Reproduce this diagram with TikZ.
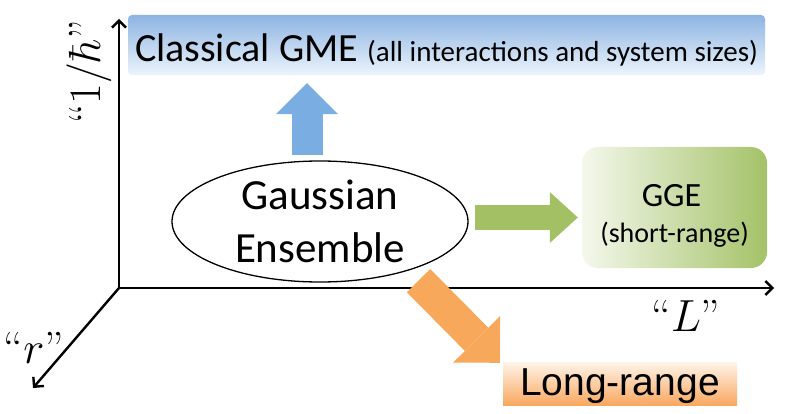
\documentclass[tikz,border=0pt]{standalone}
\usepackage{fix-cm}
\usepackage{fontspec}
\newfontfamily\calfont{Carlito}
\newfontfamily\arialfont{Liberation Sans}
\usetikzlibrary{arrows.meta, positioning, calc, shapes.geometric}

\definecolor{clsTop}{RGB}{141,180,226}
\definecolor{clsBot}{RGB}{236,244,252}
\definecolor{ggeLeft}{RGB}{244,248,236}
\definecolor{ggeRight}{RGB}{164,194,104}
\definecolor{lngTop}{RGB}{255,244,234}
\definecolor{lngBot}{RGB}{249,168,96}
\definecolor{upBlue}{RGB}{122,174,227}
\definecolor{rightGreen}{RGB}{163,193,100}
\definecolor{downOrange}{RGB}{248,168,90}

\begin{document}
\begin{tikzpicture}[
    x=1pt,
    y=-1pt,
    axis/.style={
        line width=2.4pt,
        -{Straight Barb[length=7pt, width=14pt]}
    },
    axislabel/.style={
        inner sep=0pt,
        font=\fontsize{45}{54}\selectfont
    },
    ensemble/.style={
        ellipse,
        draw=black,
        line width=1.3pt,
        fill=white,
        minimum width=296pt,
        minimum height=121pt,
        inner sep=0pt,
        align=center,
        font=\calfont\fontsize{43}{53}\selectfont
    },
    classbox/.style={
        rectangle,
        rounded corners=4pt,
        top color=clsTop,
        bottom color=clsBot,
        minimum width=637pt,
        minimum height=60pt,
        inner sep=0pt,
        text height=34pt,
        text depth=0pt,
        font=\calfont\fontsize{40}{48}\selectfont
    },
    ggebox/.style={
        rectangle,
        rounded corners=16pt,
        left color=ggeLeft,
        right color=ggeRight,
        minimum width=185pt,
        minimum height=121pt,
        inner sep=0pt
    },
    ggetext/.style={
        inner sep=0pt,
        anchor=base,
        font=\calfont\fontsize{#1}{#1}\selectfont
    },
    longbox/.style={
        rectangle,
        top color=lngTop,
        bottom color=lngBot,
        minimum width=234pt,
        minimum height=43pt,
        inner sep=0pt,
        text height=27pt,
        text depth=4pt,
        font=\arialfont\fontsize{39}{46}\selectfont
    },
    fatarrow/.style n args={4}{
        draw=#1,
        line width=#2,
        -{Triangle[length=#4, width=#3, line width=0pt, fill=#1]}
    }
]
\useasboundingbox (0,0) rectangle (789,414);

% Axes
\coordinate (o) at (119,288);
\coordinate (ytip) at (119,19);
\coordinate (xtip) at (774,288);
\coordinate (rtip) at (33,388);

\draw[axis] (o) -- (ytip);
\draw[axis] (o) -- (xtip);
\draw[axis] (o) -- (rtip);

\node[axislabel, rotate=90] (hbarlbl) at (89,72) {``$1/\hbar$''};
\node[axislabel] (Llbl) at (686,316) {``$L$''};
\node[axislabel] (rlbl) at (34,348) {``$r$''};

% Boxes
\node[ensemble] (ens) at (320,221.5) {Gaussian\\Ensemble};
\node[classbox] (cls) at (446.5,45) {Classical GME {\fontsize{29}{34}\selectfont (all interactions and system sizes)}};
\node[ggebox] (gge) at (674.5,207.5) {};
\node[ggetext=34] (ggetitle) at ($(gge.center)+(-3,-0.5)$) {GGE};
\node[ggetext=28] (ggesub) at ($(ggetitle.base)+(3,35)$) {(short-range)};
\node[longbox] (lng) at (620,383.5) {Long-range};

% Block arrows
\draw[fatarrow={upBlue}{31pt}{62pt}{31pt}]
    ($(ens.north)+(-13,-5)$) -- ($(ens.north |- cls.south)+(-13,8)$);
\draw[fatarrow={rightGreen}{25pt}{51pt}{28pt}]
    ($(ens.east)+(6,-4)$) -- ($(ens.east -| gge.west)+(-4,-4)$);
\draw[fatarrow={downOrange}{33pt}{66pt}{33pt}]
    ($(ens.south)+(98.5,-2)$) -- ($(lng.north west)+(-3,1)$);

\end{tikzpicture}
\end{document}
